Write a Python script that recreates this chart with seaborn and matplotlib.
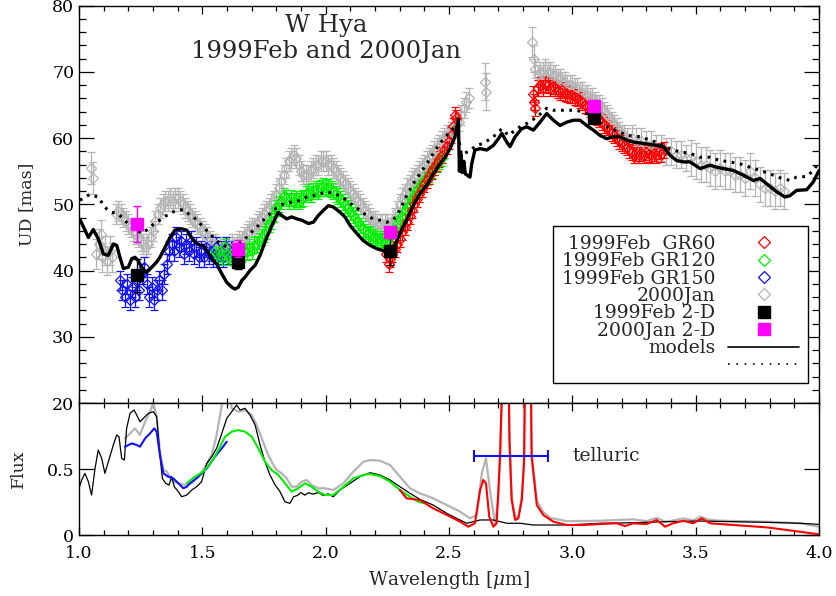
import seaborn as sns
import matplotlib.pyplot as plt
from matplotlib.lines import Line2D
from matplotlib.ticker import MultipleLocator, FormatStrFormatter

# ---------------- upper panel: uniform-disk diameters ----------------
# 1999Feb GR60 (red)
gr60_wl = [2.245, 2.255, 2.262, 2.270, 2.280, 2.290, 2.300, 2.310, 2.320, 2.330,
           2.340, 2.350, 2.360, 2.370, 2.380, 2.390, 2.400, 2.410, 2.420, 2.430,
           2.440, 2.450, 2.460, 2.470, 2.480, 2.490, 2.500, 2.510, 2.518, 2.524, 2.530,
           2.840, 2.845, 2.850, 2.860, 2.870, 2.880, 2.890, 2.900, 2.910, 2.920,
           2.930, 2.940, 2.950, 2.960, 2.970, 2.980, 2.990, 3.000, 3.010, 3.020,
           3.030, 3.040, 3.050, 3.060, 3.070, 3.080, 3.090, 3.100, 3.110, 3.120,
           3.130, 3.140, 3.150, 3.160, 3.170, 3.180, 3.190, 3.200, 3.210, 3.220,
           3.230, 3.240, 3.250, 3.260, 3.270, 3.280, 3.290, 3.300, 3.310, 3.320,
           3.330, 3.340, 3.350, 3.360, 3.370]
gr60_ud = [42.5, 41.0, 41.8, 42.5, 43.2, 44.0, 44.8, 45.8, 46.5, 47.3,
           48.2, 49.2, 50.0, 50.8, 51.5, 52.3, 53.0, 53.7, 54.3, 55.0,
           55.6, 56.2, 56.8, 57.5, 58.2, 58.8, 59.6, 60.4, 61.8, 63.5, 63.0,
           66.7, 65.5, 64.5, 67.5, 68.0, 67.5, 68.2, 68.0, 67.6, 67.8,
           67.5, 67.3, 67.0, 67.2, 66.8, 66.7, 66.5, 66.5, 66.2, 66.0,
           65.8, 65.5, 65.0, 64.8, 64.4, 64.0, 63.6, 63.2, 62.8, 62.4,
           62.0, 61.6, 61.2, 60.8, 60.4, 60.0, 59.6, 59.3, 59.0, 58.6,
           58.2, 57.9, 57.5, 57.7, 57.4, 57.8, 57.5, 57.9, 57.6, 57.4,
           57.7, 57.5, 58.0, 57.6, 58.2]

# 1999Feb GR120 (green)
gr120_wl = [1.550, 1.560, 1.570, 1.580, 1.590, 1.600, 1.610, 1.620, 1.630, 1.640,
            1.650, 1.660, 1.670, 1.680, 1.690, 1.700, 1.710, 1.720, 1.730, 1.740,
            1.750, 1.760, 1.770, 1.780, 1.790, 1.800, 1.810, 1.820, 1.830, 1.840,
            1.850, 1.860, 1.870, 1.880, 1.890, 1.900, 1.910, 1.920, 1.930, 1.940,
            1.950, 1.960, 1.970, 1.980, 1.990, 2.000, 2.010, 2.020, 2.030, 2.040,
            2.050, 2.060, 2.070, 2.080, 2.090, 2.100, 2.110, 2.120, 2.130, 2.140,
            2.150, 2.160, 2.170, 2.180, 2.190, 2.200, 2.210, 2.220, 2.230, 2.240,
            2.250, 2.260, 2.270, 2.280, 2.290, 2.300, 2.310, 2.320, 2.330, 2.340,
            2.350, 2.360, 2.370, 2.380, 2.390, 2.400, 2.410, 2.420, 2.430, 2.440,
            2.450, 2.460, 2.470]
gr120_ud = [43.0, 42.5, 43.0, 42.0, 43.5, 42.5, 42.0, 42.5, 42.0, 42.5,
            42.0, 42.5, 43.0, 42.8, 43.5, 43.0, 43.8, 44.0, 44.5, 45.0,
            45.5, 46.0, 47.0, 47.5, 48.5, 49.5, 50.0, 50.5, 51.3, 51.0,
            50.5, 51.0, 50.5, 50.8, 50.5, 50.8, 51.0, 51.5, 51.8, 51.5,
            52.0, 52.3, 52.0, 52.5, 52.8, 52.5, 52.6, 52.3, 52.0, 51.6,
            51.2, 50.8, 50.3, 49.9, 49.4, 48.9, 48.4, 47.9, 47.3, 46.8,
            46.3, 45.9, 45.6, 45.3, 45.0, 45.0, 44.8, 44.8, 44.5, 44.3,
            44.5, 45.0, 45.5, 46.3, 47.0, 47.6, 48.3, 49.0, 49.6, 50.1,
            50.8, 51.4, 52.0, 52.6, 53.1, 53.6, 54.1, 54.6, 55.1, 55.6,
            56.1, 56.6, 57.0]

# 1999Feb GR150 (blue)
gr150_wl = [1.165, 1.175, 1.185, 1.195, 1.205, 1.215, 1.225, 1.235, 1.245, 1.255,
            1.265, 1.275, 1.285, 1.295, 1.305, 1.315, 1.325, 1.335, 1.345, 1.355,
            1.365, 1.375, 1.385, 1.395, 1.405, 1.415, 1.425, 1.435, 1.445, 1.455,
            1.465, 1.475, 1.485, 1.495, 1.505, 1.515, 1.525, 1.535, 1.545, 1.555,
            1.565, 1.575, 1.585, 1.595, 1.605, 1.615, 1.625]
gr150_ud = [38.5, 37.0, 36.0, 38.0, 35.5, 37.5, 36.0, 38.5, 37.0, 39.5,
            40.5, 38.0, 36.0, 37.5, 35.5, 37.0, 38.5, 37.0, 39.5, 41.0,
            43.0, 44.0, 43.0, 45.0, 43.5, 44.5, 42.5, 44.0, 43.0, 44.5,
            42.5, 43.5, 42.0, 43.0, 42.0, 43.5, 42.5, 43.0, 42.0, 43.5,
            42.5, 43.0, 42.0, 43.5, 42.5, 43.0, 42.5]

# 2000Jan (grey)
jan_wl = [1.050, 1.055, 1.070, 1.080, 1.090, 1.095, 1.105, 1.115, 1.125, 1.135,
          1.15, 1.16, 1.17, 1.18, 1.19, 1.20, 1.21, 1.22, 1.23, 1.24,
          1.25, 1.26, 1.27, 1.28, 1.29, 1.30, 1.31, 1.32, 1.33, 1.34,
          1.35, 1.36, 1.37, 1.38, 1.39, 1.40, 1.41, 1.42, 1.43, 1.44,
          1.45, 1.46, 1.47, 1.48, 1.49, 1.50, 1.51, 1.52, 1.53, 1.54,
          1.55, 1.56, 1.57, 1.58, 1.59, 1.60, 1.61, 1.62, 1.63, 1.64,
          1.65, 1.66, 1.67, 1.68, 1.69, 1.70, 1.71, 1.72, 1.73, 1.74,
          1.75, 1.76, 1.77, 1.78, 1.79, 1.80, 1.81, 1.82, 1.83, 1.84,
          1.85, 1.86, 1.87, 1.88, 1.89, 1.90, 1.91, 1.92, 1.93, 1.94,
          1.95, 1.96, 1.97, 1.98, 1.99, 2.00, 2.01, 2.02, 2.03, 2.04,
          2.05, 2.06, 2.07, 2.08, 2.09, 2.10, 2.11, 2.12, 2.13, 2.14,
          2.15, 2.16, 2.17, 2.18, 2.19, 2.20, 2.21, 2.22, 2.23, 2.24,
          2.25, 2.26, 2.27, 2.28, 2.29, 2.30, 2.31, 2.32, 2.33, 2.34,
          2.35, 2.36, 2.37, 2.38, 2.39, 2.40, 2.41, 2.42, 2.43, 2.44,
          2.45, 2.46, 2.47, 2.48, 2.49, 2.50, 2.51, 2.52, 2.53, 2.54,
          2.55, 2.56, 2.57, 2.58, 2.645, 2.650, 2.835, 2.845,
          2.85, 2.86, 2.87, 2.88, 2.89, 2.90, 2.91, 2.92, 2.93, 2.94,
          2.95, 2.96, 2.97, 2.98, 2.99, 3.00, 3.01, 3.02, 3.03, 3.04,
          3.05, 3.06, 3.07, 3.08, 3.09, 3.10, 3.11, 3.12, 3.13, 3.14,
          3.15, 3.16, 3.17, 3.18, 3.19, 3.20, 3.21, 3.22,
          3.24, 3.26, 3.28, 3.30, 3.32, 3.34, 3.36, 3.38, 3.40, 3.42,
          3.44, 3.46, 3.48, 3.50, 3.52, 3.54, 3.56, 3.58, 3.60, 3.62,
          3.64, 3.66, 3.68, 3.70, 3.72, 3.74, 3.76, 3.78, 3.80, 3.82,
          3.84, 3.86]
jan_ud = [55.5, 54.0, 42.5, 44.0, 45.5, 42.0, 43.0, 41.5, 43.0, 42.0,
          48.5, 49.0, 48.5, 48.0, 47.5, 47.0, 46.5, 46.0, 45.5, 45.0,
          44.5, 44.0, 43.5, 44.0, 45.0, 46.0, 47.5, 48.5, 49.5, 50.0,
          50.5, 50.5, 51.0, 50.5, 51.0, 51.0, 50.5, 50.0, 49.5, 49.0,
          48.5, 48.0, 47.5, 47.0, 46.5, 46.0, 45.5, 45.0, 44.5, 44.0,
          44.0, 43.5, 43.5, 43.0, 43.5, 43.0, 43.5, 44.0, 43.5, 44.0,
          44.5, 44.5, 45.0, 45.5, 46.0, 46.5, 46.5, 47.0, 47.5, 48.0,
          48.5, 49.0, 49.5, 50.0, 50.5, 51.5, 52.5, 53.5, 54.5, 55.5,
          56.5, 57.0, 57.5, 57.0, 56.0, 55.0, 54.5, 54.5, 54.5, 55.0,
          55.5, 56.0, 56.0, 56.5, 56.5, 56.5, 56.0, 56.0, 55.5, 55.0,
          54.5, 54.0, 53.5, 53.0, 52.5, 52.0, 51.5, 51.0, 50.5, 50.0,
          49.5, 49.0, 48.5, 48.0, 47.5, 47.5, 47.0, 47.0, 47.0, 47.0,
          47.0, 46.5, 47.0, 48.0, 49.0, 50.0, 51.0, 51.5, 52.5, 53.0,
          53.5, 54.0, 54.5, 55.0, 55.5, 56.0, 56.5, 57.0, 57.5, 58.0,
          58.5, 59.0, 59.5, 60.0, 60.5, 60.5, 61.0, 61.5, 62.0, 62.5,
          63.5, 64.5, 65.5, 66.0, 68.5, 67.0, 74.5, 72.0,
          70.5, 69.5, 70.0, 70.0, 70.5, 70.0, 70.0, 69.5, 69.5, 69.0,
          69.0, 68.5, 68.5, 68.0, 68.0, 68.0, 67.5, 67.5, 67.0, 67.0,
          66.5, 66.5, 66.0, 66.0, 65.5, 65.0, 65.0, 64.5, 64.0, 63.5,
          63.0, 62.5, 62.0, 61.5, 61.0, 60.5, 60.5, 60.0,
          60.0, 59.5, 59.5, 59.0, 59.0, 58.5, 58.5, 58.0, 58.0, 57.5,
          57.5, 57.0, 57.0, 56.5, 56.0, 56.0, 55.5, 55.0, 55.5, 55.0,
          55.0, 54.5, 54.5, 54.0, 55.0, 54.0, 53.0, 52.5, 52.5, 52.0,
          52.5, 52.0]
jan_err = ([2.4, 2.4] + [2.2] * 8 + [1.5] * 144 + [2.8, 2.8, 2.2, 2.0]
           + [1.5] * 38 + [2.0] * 12 + [2.7] * 20)

# 2-D fits
feb2d_wl = [1.235, 1.645, 2.260, 3.088]
feb2d_ud = [39.3, 41.3, 42.9, 63.1]
feb2d_err = [2.5, 1.0, 2.0, 0.8]
jan2d_wl = [1.235, 1.645, 2.260, 3.088]
jan2d_ud = [47.0, 43.3, 45.8, 64.8]
jan2d_err = [2.7, 1.3, 0.8, 0.8]

# models
mod1_wl = [1.004, 1.024, 1.038, 1.058, 1.078, 1.099, 1.119, 1.139, 1.153, 1.166,
           1.180, 1.200, 1.214, 1.227, 1.240, 1.254, 1.274, 1.295, 1.315, 1.328,
           1.349, 1.369, 1.389, 1.416, 1.437, 1.450, 1.470, 1.491, 1.504, 1.518,
           1.538, 1.558, 1.579, 1.599, 1.619, 1.632, 1.646, 1.660, 1.673, 1.693,
           1.714, 1.734, 1.761, 1.788, 1.808, 1.822, 1.842, 1.862, 1.883, 1.903,
           1.930, 1.950, 1.970, 1.991, 2.011, 2.031, 2.058, 2.078, 2.099, 2.126,
           2.153, 2.180, 2.207, 2.234, 2.261, 2.281, 2.301, 2.328, 2.355, 2.382,
           2.410, 2.436, 2.463, 2.484, 2.504, 2.524, 2.538, 2.542, 2.548, 2.553,
           2.560, 2.566, 2.585, 2.592, 2.605, 2.626, 2.653, 2.680, 2.700, 2.714,
           2.734, 2.747, 2.768, 2.794, 2.815, 2.842, 2.869, 2.896, 2.923, 2.950,
           2.977, 3.004, 3.031, 3.058, 3.085, 3.112, 3.139, 3.166, 3.193, 3.220,
           3.247, 3.288, 3.342, 3.369, 3.396, 3.423, 3.450, 3.477, 3.518, 3.558,
           3.585, 3.612, 3.653, 3.693, 3.734, 3.761, 3.788, 3.828, 3.862, 3.882,
           3.909, 3.950, 3.977, 4.000]
mod1_ud = [47.7, 46.1, 45.0, 46.2, 44.8, 42.5, 42.3, 44.0, 43.8, 42.0,
           40.3, 40.5, 41.8, 42.0, 41.5, 40.5, 39.7, 40.5, 41.3, 42.0,
           43.5, 45.0, 46.1, 46.3, 46.1, 45.3, 44.3, 43.8, 43.8, 43.0,
           41.8, 41.0, 39.5, 38.2, 37.5, 37.2, 37.5, 38.5, 39.0, 40.0,
           40.8, 42.3, 45.0, 47.3, 48.8, 48.3, 47.8, 48.1, 47.8, 47.6,
           47.1, 47.3, 48.3, 49.1, 49.8, 49.6, 48.8, 48.1, 46.8, 45.6,
           44.5, 43.8, 43.3, 43.0, 42.8, 43.8, 45.6, 47.6, 49.8, 51.6,
           52.9, 54.6, 56.1, 57.1, 58.4, 60.2, 62.9, 55.0, 57.6, 54.8,
           56.5, 54.6, 54.1, 56.1, 58.2, 58.4, 58.2, 58.9, 59.9, 60.7,
           59.4, 58.7, 60.2, 61.4, 61.7, 61.2, 62.4, 63.7, 62.7, 61.9,
           62.4, 62.7, 62.7, 61.9, 61.2, 60.4, 59.9, 60.2, 60.2, 59.7,
           59.4, 59.2, 58.9, 58.7, 57.4, 56.6, 56.4, 56.4, 55.4, 55.9,
           55.6, 55.4, 55.1, 54.4, 53.6, 53.9, 53.1, 51.9, 51.1, 51.3,
           52.1, 52.2, 53.4, 55.1]
mod2_wl = [1.004, 1.024, 1.045, 1.058, 1.078, 1.092, 1.112, 1.132, 1.153, 1.173,
           1.193, 1.214, 1.234, 1.254, 1.274, 1.295, 1.315, 1.335, 1.355, 1.376,
           1.403, 1.423, 1.443, 1.464, 1.484, 1.504, 1.524, 1.545, 1.565, 1.585,
           1.605, 1.626, 1.646, 1.666, 1.686, 1.707, 1.727, 1.747, 1.767, 1.788,
           1.815, 1.842, 1.869, 1.896, 1.923, 1.950, 1.977, 2.004, 2.031, 2.058,
           2.085, 2.112, 2.139, 2.166, 2.193, 2.220, 2.247, 2.274, 2.301, 2.328,
           2.355, 2.382, 2.410, 2.436, 2.463, 2.491, 2.511, 2.530, 2.550, 2.580,
           2.612, 2.639, 2.680, 2.714, 2.741, 2.768, 2.788, 2.815, 2.849, 2.882,
           2.896, 2.923, 2.957, 2.991, 3.018, 3.058, 3.099, 3.126, 3.159, 3.193,
           3.220, 3.274, 3.315, 3.355, 3.396, 3.436, 3.477, 3.518, 3.558, 3.599,
           3.639, 3.680, 3.720, 3.761, 3.801, 3.842, 3.882, 3.909, 3.950, 3.977,
           4.000]
mod2_ud = [50.6, 51.1, 51.5, 51.3, 51.1, 50.3, 49.3, 48.8, 48.6, 48.1,
           47.3, 46.6, 46.1, 45.6, 46.1, 46.8, 47.3, 47.8, 48.3, 48.8,
           49.1, 49.2, 48.6, 48.1, 47.3, 46.6, 45.8, 45.0, 44.3, 43.8,
           43.5, 43.5, 44.0, 44.5, 45.3, 46.1, 46.8, 47.6, 48.3, 49.1,
           49.8, 50.3, 50.3, 50.6, 51.1, 51.3, 51.6, 51.9, 51.6, 51.3,
           50.6, 49.8, 49.1, 48.3, 47.8, 47.6, 47.3, 47.6, 49.1, 51.3,
           53.1, 54.6, 56.1, 57.7, 59.2, 60.4, 61.2, 62.0, 57.5, 58.0,
           58.9, 59.2, 60.2, 61.4, 60.4, 61.2, 61.7, 62.2, 63.0, 64.0,
           64.5, 64.2, 64.2, 64.2, 64.2, 63.7, 62.7, 61.9, 61.4, 60.9,
           60.4, 60.2, 59.7, 59.2, 58.4, 57.9, 57.7, 57.1, 57.1, 56.6,
           56.4, 56.1, 55.6, 55.1, 54.6, 54.0, 53.6, 54.1, 54.2, 55.1,
           56.4]

# ---------------- lower panel: flux ----------------
fl_black_wl = [1.000, 1.011, 1.024, 1.038, 1.051, 1.065, 1.078, 1.092, 1.105, 1.119,
               1.139, 1.153, 1.162, 1.173, 1.184, 1.193, 1.207, 1.223, 1.234, 1.247,
               1.261, 1.281, 1.301, 1.315, 1.328, 1.338, 1.351, 1.365, 1.376, 1.386,
               1.403, 1.416, 1.437, 1.457, 1.477, 1.497, 1.518, 1.538, 1.558, 1.579,
               1.599, 1.619, 1.639, 1.653, 1.673, 1.693, 1.714, 1.734, 1.754, 1.774,
               1.795, 1.815, 1.835, 1.855, 1.870, 1.885, 1.900, 1.915, 1.930, 1.950,
               1.970, 1.990, 2.010, 2.031, 2.058, 2.099, 2.139, 2.180, 2.220, 2.261,
               2.301, 2.342, 2.382, 2.436, 2.491, 2.531, 2.572, 2.599, 2.626, 2.680,
               2.734, 2.788, 2.842, 2.896, 2.977, 3.112, 3.247, 3.376, 3.518, 3.653,
               3.788, 3.923, 4.000]
fl_black = [0.354, 0.417, 0.467, 0.404, 0.303, 0.505, 0.644, 0.581, 0.467, 0.555,
            0.682, 0.758, 0.745, 0.581, 0.568, 0.808, 0.922, 0.947, 0.909, 0.858,
            0.884, 0.922, 0.934, 0.896, 0.606, 0.429, 0.392, 0.379, 0.442, 0.366,
            0.328, 0.290, 0.303, 0.341, 0.366, 0.404, 0.543, 0.593, 0.657, 0.770,
            0.884, 0.934, 0.985, 0.947, 0.960, 0.909, 0.833, 0.682, 0.555, 0.455,
            0.379, 0.328, 0.252, 0.240, 0.290, 0.300, 0.322, 0.302, 0.320, 0.310,
            0.322, 0.300, 0.312, 0.290, 0.341, 0.392, 0.442, 0.472, 0.455, 0.417,
            0.366, 0.316, 0.270, 0.227, 0.164, 0.126, 0.089, 0.101, 0.114, 0.114,
            0.089, 0.089, 0.076, 0.076, 0.076, 0.089, 0.093, 0.101, 0.106, 0.101,
            0.096, 0.089, 0.081]
fl_grey_wl = [1.186, 1.207, 1.227, 1.247, 1.268, 1.288, 1.301, 1.315, 1.328, 1.342,
              1.356, 1.369, 1.382, 1.403, 1.430, 1.457, 1.484, 1.511, 1.538, 1.558,
              1.579, 1.590, 1.610, 1.619, 1.646, 1.673, 1.700, 1.720, 1.741, 1.761,
              1.781, 1.801, 1.822, 1.842, 1.862, 1.883, 1.903, 1.923, 1.943, 1.970,
              1.997, 2.031, 2.072, 2.112, 2.153, 2.180, 2.220, 2.261, 2.301, 2.342,
              2.382, 2.436, 2.491, 2.545, 2.585, 2.612, 2.633, 2.650, 2.666, 2.686,
              2.700, 2.714, 2.720, 2.740, 2.745, 2.754, 2.768, 2.781, 2.795, 2.804,
              2.810, 2.830, 2.835, 2.856, 2.882, 2.909, 2.977, 3.112, 3.247, 3.301,
              3.342, 3.376, 3.409, 3.450, 3.490, 3.518, 3.558, 3.585, 3.653, 3.788,
              3.923, 4.000]
fl_grey = [0.732, 0.770, 0.808, 0.758, 0.858, 0.934, 1.000, 0.896, 0.631, 0.492,
           0.480, 0.442, 0.404, 0.392, 0.379, 0.392, 0.442, 0.517, 0.606, 0.758,
           0.985, 1.100, 1.050, 0.960, 0.934, 0.947, 0.909, 0.833, 0.732, 0.631,
           0.555, 0.492, 0.467, 0.429, 0.366, 0.366, 0.404, 0.417, 0.379, 0.354,
           0.354, 0.341, 0.392, 0.480, 0.555, 0.568, 0.563, 0.530, 0.442, 0.354,
           0.316, 0.278, 0.227, 0.177, 0.126, 0.152, 0.467, 0.581, 0.341, 0.089,
           0.265, 1.050, 1.500, 1.500, 0.740, 0.290, 0.135, 0.140, 0.290, 0.560,
           1.500, 1.500, 0.620, 0.260, 0.175, 0.130, 0.105, 0.108, 0.119, 0.105,
           0.131, 0.100, 0.110, 0.126, 0.110, 0.139, 0.114, 0.110, 0.106, 0.101,
           0.089, 0.063]
fl_blue_wl = [1.186, 1.214, 1.234, 1.247, 1.268, 1.288, 1.305, 1.315, 1.328, 1.342,
              1.362, 1.382, 1.403, 1.423, 1.437, 1.450, 1.484, 1.518, 1.551, 1.579,
              1.599]
fl_blue = [0.669, 0.694, 0.682, 0.669, 0.732, 0.770, 0.808, 0.783, 0.606, 0.467,
           0.442, 0.429, 0.392, 0.354, 0.366, 0.392, 0.442, 0.505, 0.593, 0.657,
           0.707]
fl_green_wl = [1.437, 1.470, 1.504, 1.538, 1.565, 1.592, 1.619, 1.646, 1.673, 1.700,
               1.727, 1.754, 1.781, 1.808, 1.835, 1.862, 1.889, 1.916, 1.943, 1.970,
               1.997, 2.031, 2.072, 2.112, 2.153, 2.180, 2.220, 2.261, 2.301, 2.342,
               2.376, 2.400]
fl_green = [0.392, 0.442, 0.480, 0.555, 0.644, 0.745, 0.783, 0.795, 0.783, 0.745,
            0.657, 0.555, 0.492, 0.455, 0.392, 0.328, 0.354, 0.392, 0.366, 0.328,
            0.303, 0.303, 0.366, 0.429, 0.455, 0.462, 0.447, 0.404, 0.341, 0.290,
            0.252, 0.240]
fl_red_wl = [2.301, 2.328, 2.382, 2.436, 2.491, 2.545, 2.578, 2.605, 2.626, 2.639,
             2.650, 2.663, 2.680, 2.693, 2.707, 2.714, 2.720, 2.740, 2.745, 2.754,
             2.768, 2.781, 2.795, 2.804, 2.810, 2.830, 2.835, 2.856, 2.882, 2.923,
             2.977, 3.044, 3.112, 3.180, 3.213, 3.247, 3.301, 3.342, 3.376, 3.409,
             3.450, 3.490, 3.524, 3.558, 3.653, 3.788, 3.923, 4.000]
fl_red = [0.341, 0.278, 0.265, 0.202, 0.152, 0.101, 0.063, 0.089, 0.341, 0.417,
          0.392, 0.139, 0.063, 0.089, 0.593, 1.050, 1.500, 1.500, 0.720, 0.265,
          0.114, 0.126, 0.265, 0.543, 1.500, 1.500, 0.593, 0.227, 0.152, 0.101,
          0.076, 0.076, 0.083, 0.089, 0.068, 0.089, 0.083, 0.114, 0.063, 0.089,
          0.108, 0.089, 0.126, 0.089, 0.076, 0.058, 0.025, 0.005]
telluric_band = [2.60, 2.90]
telluric_level = 0.60

RED, GREEN, BLUE, GREY, MAG = "#ff0000", "#00f000", "#1010ff", "#b4b4b4", "#ff00ff"

sns.set_style("ticks")
plt.rcParams["font.family"] = ["DejaVu Serif"]
plt.rcParams["mathtext.fontset"] = "dejavuserif"
plt.rcParams["font.size"] = 12.5

fig = plt.figure(figsize=(8.36, 5.96), dpi=100)
ax1 = fig.add_axes([0.0945, 0.3238, 0.8852, 0.6668])
ax2 = fig.add_axes([0.0945, 0.1023, 0.8852, 0.2215], sharex=ax1)

# upper panel
def diamonds(wl, ud, err, col):
    ax1.errorbar(wl, ud, yerr=err, fmt="D", ms=5.5, mfc="none", mec=col, mew=0.9,
                 ecolor=col, elinewidth=0.9, capsize=3, capthick=0.9, zorder=2)

diamonds(jan_wl, jan_ud, jan_err, GREY)
diamonds(gr150_wl, gr150_ud, 1.5, BLUE)
diamonds(gr120_wl, gr120_ud, 1.2, GREEN)
diamonds(gr60_wl, gr60_ud, 1.2, RED)

sns.lineplot(x=mod1_wl, y=mod1_ud, ax=ax1, color="black", lw=2.4,
             estimator=None, sort=False, zorder=4)
sns.lineplot(x=mod2_wl, y=mod2_ud, ax=ax1, color="black", lw=2.2,
             linestyle=(0, (0.9, 1.8)), estimator=None, sort=False, zorder=4)

ax1.errorbar(feb2d_wl, feb2d_ud, yerr=feb2d_err, fmt="s", ms=8.8, color="black",
             ecolor="black", elinewidth=1, capsize=3, zorder=5)
ax1.errorbar(jan2d_wl, jan2d_ud, yerr=jan2d_err, fmt="s", ms=8.8, color=MAG,
             ecolor=MAG, elinewidth=1, capsize=3, zorder=6)

ax1.set_xlim(1.0, 4.0)
ax1.set_ylim(20, 80)
ax1.yaxis.set_major_locator(MultipleLocator(10))
ax1.yaxis.set_minor_locator(MultipleLocator(2))
ax1.set_ylabel("UD [mas]")
ax1.yaxis.set_label_coords(-0.06, 0.5)
ax1.tick_params(labelbottom=False)

ax1.text(0.334, 0.950, "W Hya", transform=ax1.transAxes, ha="center", va="center",
         fontsize=17.5)
ax1.text(0.334, 0.884, "1999Feb and 2000Jan", transform=ax1.transAxes,
         ha="center", va="center", fontsize=17.5)

handles = [
    Line2D([], [], ls="none", marker="D", ms=6, mfc="none", mec=RED, mew=0.9),
    Line2D([], [], ls="none", marker="D", ms=6, mfc="none", mec=GREEN, mew=0.9),
    Line2D([], [], ls="none", marker="D", ms=6, mfc="none", mec=BLUE, mew=0.9),
    Line2D([], [], ls="none", marker="D", ms=6, mfc="none", mec=GREY, mew=0.9),
    Line2D([], [], ls="none", marker="s", ms=8.5, color="black"),
    Line2D([], [], ls="none", marker="s", ms=8.5, color=MAG),
    Line2D([], [], color="black", lw=1.2),
    Line2D([], [], color="black", lw=1.2, ls=(0, (1, 4))),
]
labels = ["1999Feb  GR60", "1999Feb GR120", "1999Feb GR150", "2000Jan",
          "1999Feb 2-D", "2000Jan 2-D", "models", " "]
leg = ax1.legend(handles, labels, loc="lower right", bbox_to_anchor=(0.985, 0.05),
                 markerfirst=False, frameon=True, fancybox=False, fontsize=13.5,
                 handlelength=3.8, handletextpad=0.7, labelspacing=-0.03,
                 borderpad=0.45, borderaxespad=0)
leg.get_frame().set_edgecolor("black")
leg.get_frame().set_linewidth(1.0)
leg.get_frame().set_alpha(1)

# lower panel
sns.lineplot(x=fl_grey_wl, y=fl_grey, ax=ax2, color=GREY, lw=1.6, estimator=None, sort=False)
sns.lineplot(x=fl_black_wl, y=fl_black, ax=ax2, color="black", lw=0.9, estimator=None, sort=False)
sns.lineplot(x=fl_blue_wl, y=fl_blue, ax=ax2, color=BLUE, lw=1.5, estimator=None, sort=False)
sns.lineplot(x=fl_green_wl, y=fl_green, ax=ax2, color=GREEN, lw=1.5, estimator=None, sort=False)
sns.lineplot(x=fl_red_wl, y=fl_red, ax=ax2, color=RED, lw=1.5, estimator=None, sort=False)
ax2.errorbar(sum(telluric_band) / 2, telluric_level,
             xerr=(telluric_band[1] - telluric_band[0]) / 2, fmt="none",
             ecolor=BLUE, elinewidth=1.5, capsize=4, capthick=1.5)
ax2.text(3.0, telluric_level, "telluric", ha="left", va="center", fontsize=13.5)

ax2.set_ylim(0, 1.0)
ax2.set_yticks([0, 0.5])
ax2.set_yticklabels(["0", "0.5"])
ax2.set_ylabel("Flux")
ax2.yaxis.set_label_coords(-0.07, 0.5)
ax2.xaxis.set_major_locator(MultipleLocator(0.5))
ax2.xaxis.set_minor_locator(MultipleLocator(0.1))
ax2.xaxis.set_major_formatter(FormatStrFormatter("%.1f"))
ax2.set_xlabel(r"Wavelength [$\mu$m]", labelpad=5, fontsize=13.3)

for ax in (ax1, ax2):
    for s in ax.spines.values():
        s.set_linewidth(1.0)
        s.set_color("black")
    ax.tick_params(which="both", direction="in", top=True, right=True, colors="black",
                   width=0.9, labelsize=12.5)
    ax.tick_params(axis="x", which="major", length=6, pad=7)
    ax.tick_params(axis="x", which="minor", length=3.5)
    ax.tick_params(axis="y", which="major", length=11)
    ax.tick_params(axis="y", which="minor", length=5)
ax1.set_xlabel("")

fig.savefig("out.png", dpi=100)
